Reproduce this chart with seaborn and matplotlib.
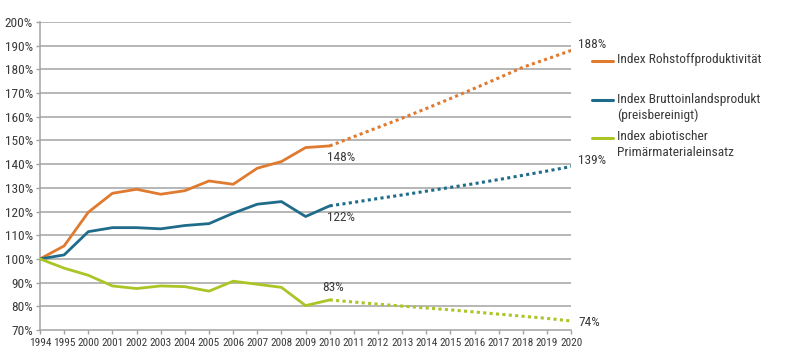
import matplotlib
matplotlib.use('Agg')
import matplotlib.pyplot as plt
import seaborn as sns
import pandas as pd
from matplotlib.lines import Line2D

# Jahre (kategoriale Achse)
jahre = ['1994', '1995'] + [str(j) for j in range(2000, 2021)]
ist_jahre = jahre[:13]          # 1994 .. 2010
prognose_jahre = jahre[12:]     # 2010 .. 2020

# Index-Werte in %
rohstoffprod = [100, 105.5, 119.7, 127.7, 129.4, 127.3, 128.8, 132.9, 131.5, 138.3, 141.1, 147.0, 147.7]
bip = [100, 101.7, 111.5, 113.2, 113.2, 112.7, 114.1, 114.9, 119.3, 123.1, 124.2, 117.9, 122.4]
materialeinsatz = [100, 96.1, 93.1, 88.6, 87.5, 88.6, 88.3, 86.4, 90.6, 89.3, 88.0, 80.3, 82.7]

rohstoffprod_prog = [147.7, 151.6, 155.5, 159.4, 163.5, 167.7, 172.0, 176.4, 180.9, 184.4, 188.0]
bip_prog = [122.4, 123.9, 125.5, 127.0, 128.6, 130.2, 131.8, 133.5, 135.3, 137.1, 139.0]
materialeinsatz_prog = [82.7, 81.8, 80.9, 80.1, 79.3, 78.5, 77.6, 76.7, 75.8, 74.9, 73.8]

namen = ['Index Rohstoffproduktivität',
         'Index Bruttoinlandsprodukt\n(preisbereinigt)',
         'Index abiotischer\nPrimärmaterialeinsatz']
farben = ['#E07A2F', '#1F6C8A', '#A9C526']
end_labels = ['148%', '122%', '83%']
prog_labels = ['188%', '139%', '74%']

sns.set_theme(style='white')
plt.rcParams['font.family'] = ['Roboto Condensed', 'Liberation Sans Narrow', 'DejaVu Sans']
text_farbe = '#3a3a3a'
grau = '#A3A3A3'
fs = 9.6

fig = plt.figure(figsize=(8, 3.63), dpi=100)
ax = fig.add_axes([0.05, 0.0909, 0.664, 0.8485])

df_ist = pd.DataFrame({'Jahr': ist_jahre * 3,
                       'Wert': rohstoffprod + bip + materialeinsatz,
                       'Serie': sum([[n] * len(ist_jahre) for n in namen], [])})
df_prog = pd.DataFrame({'Jahr': prognose_jahre * 3,
                        'Wert': rohstoffprod_prog + bip_prog + materialeinsatz_prog,
                        'Serie': sum([[n] * len(prognose_jahre) for n in namen], [])})

# Achse mit allen Jahren als Kategorien
ax.set_xlim(0, len(jahre) - 1)
x_pos = {j: i for i, j in enumerate(jahre)}
df_ist['x'] = df_ist['Jahr'].map(x_pos)
df_prog['x'] = df_prog['Jahr'].map(x_pos)

# Gitter
ax.set_ylim(70, 200)
ax.set_yticks(range(70, 201, 10))
for v in range(80, 201, 10):
    ax.axhline(v, color=grau, lw=1.1, zorder=0)

sns.lineplot(data=df_ist, x='x', y='Wert', hue='Serie', palette=farben,
             lw=2.0, legend=False, ax=ax, zorder=3)
sns.lineplot(data=df_prog, x='x', y='Wert', hue='Serie', palette=farben,
             lw=2.2, legend=False, ax=ax, zorder=3, linestyle=(0, (1, 1.1)))

ax.set_xticks(range(len(jahre)))
ax.set_xticklabels(jahre)
ax.set_yticklabels([f'{v}%' for v in range(70, 201, 10)])
ax.set_xlabel('')
ax.set_ylabel('')
ax.tick_params(axis='both', colors=text_farbe, length=3, width=1, color=grau,
               direction='out', bottom=True, left=True, pad=2)
ax.tick_params(axis='y', labelsize=fs)
ax.tick_params(axis='x', labelsize=8.1, pad=3)
for s in ['top', 'right']:
    ax.spines[s].set_visible(False)
for s in ['left', 'bottom']:
    ax.spines[s].set_color(grau)
    ax.spines[s].set_linewidth(1.1)

# Wertebeschriftungen
ax.text(11.9, rohstoffprod[-1] - 2.3, end_labels[0], ha='left', va='top', fontsize=fs, color=text_farbe)
ax.text(11.9, bip[-1] - 2.3, end_labels[1], ha='left', va='top', fontsize=fs, color=text_farbe)
ax.text(11.7, materialeinsatz[-1] + 2.3, end_labels[2], ha='left', va='bottom', fontsize=fs, color=text_farbe)
for val, lab in zip([rohstoffprod_prog[-1], bip_prog[-1], materialeinsatz_prog[-1]], prog_labels):
    ax.annotate(lab, (22, val), xytext=(5, 4 if lab != '74%' else -1), textcoords='offset points',
                ha='left', va='center', fontsize=fs, color=text_farbe, annotation_clip=False)

# Legende von Hand
leg_y = [61, 100, 138]
for farbe, name, y in zip(farben, namen, leg_y):
    yf = 1 - y / 363
    fig.add_artist(Line2D([592 / 800, 613 / 800], [yf, yf], color=farbe, lw=2.2))
    fig.text(617 / 800, yf + 7.5 / 363, name, ha='left', va='top', fontsize=fs, color=text_farbe,
             linespacing=1.3)

plt.savefig('out.png', dpi=100)
